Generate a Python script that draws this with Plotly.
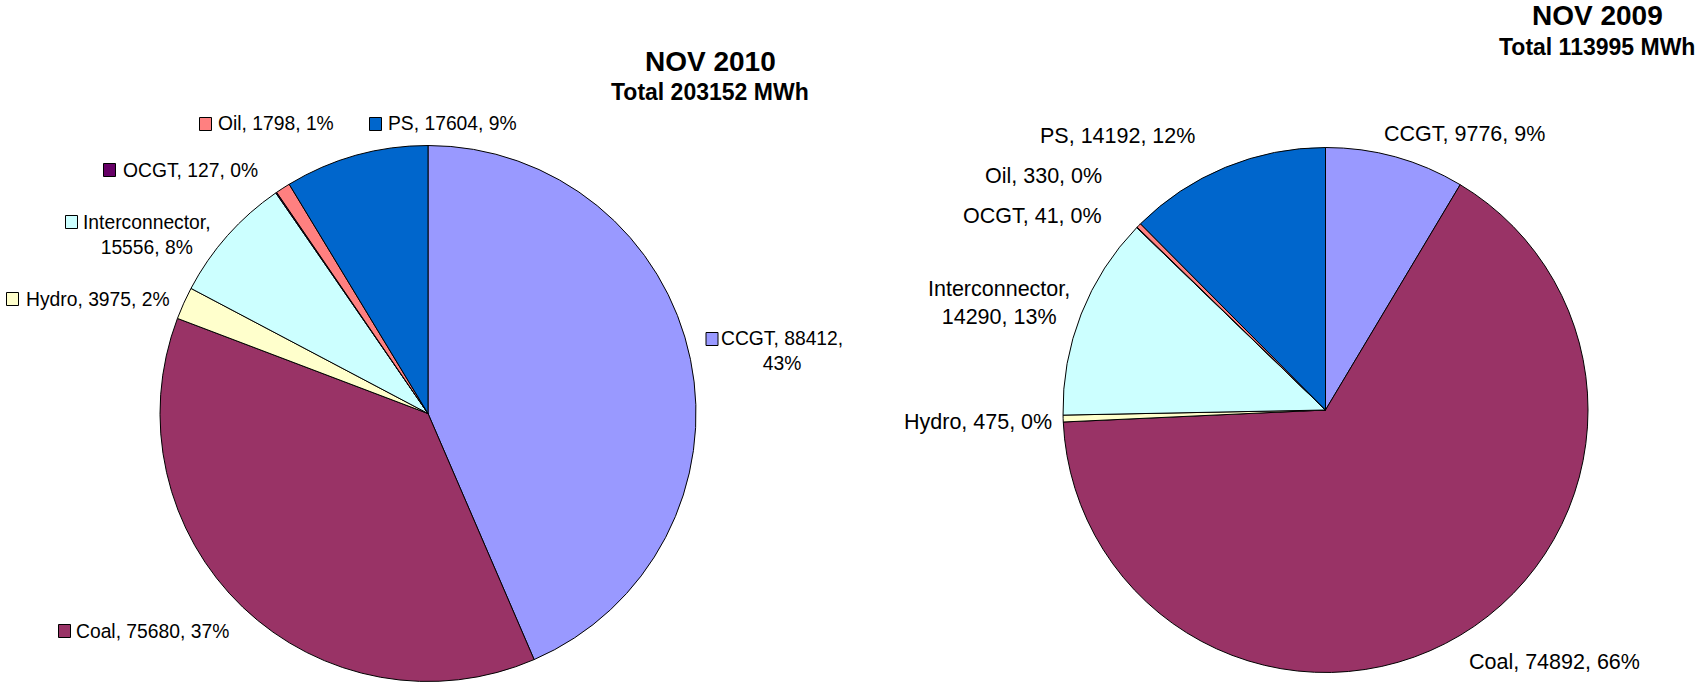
import plotly.graph_objects as go

W, H = 1706, 689

# ---------------- data ----------------
categories = ["CCGT", "Coal", "Hydro", "Interconnector", "OCGT", "Oil", "PS"]
colors = ["#9999FF", "#993366", "#FFFFCC", "#CCFFFF", "#660066", "#FF8080", "#0066CC"]

values_2010 = [88412, 75680, 3975, 15556, 127, 1798, 17604]
pct_2010 = ["43%", "37%", "2%", "8%", "0%", "1%", "9%"]
values_2009 = [9776, 74892, 475, 14290, 41, 330, 14192]
pct_2009 = ["9%", "66%", "0%", "13%", "0%", "0%", "12%"]

title_2010 = "NOV 2010"
total_2010 = "Total 203152 MWh"
title_2009 = "NOV 2009"
total_2009 = "Total 113995 MWh"

# ---------------- layout helpers (pixel -> paper) ----------------
def px(x):
    return x / W

def py(y):
    return 1 - y / H

FONT = "Liberation Sans, Arial, sans-serif"

fig = go.Figure()

# pie domains (pixel boxes)
left_box = (160, 145, 696, 682)     # x0, y0(top), x1, y1(bottom)
right_box = (1063, 147, 1588, 673)

for vals, box in ((values_2010, left_box), (values_2009, right_box)):
    x0, y0, x1, y1 = box
    fig.add_trace(go.Pie(
        labels=categories,
        values=vals,
        sort=False,
        direction="clockwise",
        rotation=0,
        textinfo="none",
        hoverinfo="label+value+percent",
        marker=dict(colors=colors, line=dict(color="#000000", width=1)),
        domain=dict(x=[px(x0), px(x1)], y=[py(y1), py(y0)]),
        showlegend=False,
    ))

annotations = []
shapes = []

def label_text(i, vals, pcts, split=None):
    s1 = ",<br>" if split == "name" else ", "
    s2 = ",<br>" if split == "value" else ", "
    return f"{categories[i]}{s1}{vals[i]}{s2}{pcts[i]}"

# Left pie labels: anchor, x, y_center, split, square_x, square_y
left_pos = {
    "CCGT": ("center", 782, 350.5, "value", 706, 339),
    "Coal": ("left", 74, 631, None, 58.5, 631),
    "Hydro": ("left", 24, 299, None, 6.5, 299),
    "Interconnector": ("center", 147, 234.5, "name", 65.5, 222),
    "OCGT": ("left", 121, 170, None, 103.5, 170),
    "Oil": ("left", 216, 124, None, 199.5, 124),
    "PS": ("left", 386, 124, None, 369.5, 124),
}
for i, c in enumerate(categories):
    anchor, x, y, split, sqx, sqy = left_pos[c]
    annotations.append(dict(
        x=px(x), y=py(y), xref="paper", yref="paper",
        xanchor=anchor, yanchor="middle", showarrow=False, align="center",
        text=label_text(i, values_2010, pct_2010, split),
        font=dict(family=FONT, size=19.3, color="#000000"),
    ))
    shapes.append(dict(
        type="rect", xref="paper", yref="paper",
        x0=px(sqx), x1=px(sqx + 12), y0=py(sqy + 6.5), y1=py(sqy - 6.5),
        fillcolor=colors[i], line=dict(color="#000000", width=1),
    ))

right_pos = {
    "CCGT": ("left", 1382, 134, None),
    "Coal": ("left", 1467, 662, None),
    "Hydro": ("right", 1054, 422, None),
    "Interconnector": ("center", 999, 302.5, "name"),
    "OCGT": ("right", 1104, 216, None),
    "Oil": ("right", 1104, 176, None),
    "PS": ("right", 1197, 136, None),
}
for i, c in enumerate(categories):
    anchor, x, y, split = right_pos[c]
    annotations.append(dict(
        x=px(x), y=py(y), xref="paper", yref="paper",
        xanchor=anchor, yanchor="middle", showarrow=False, align="center",
        text=label_text(i, values_2009, pct_2009, split),
        font=dict(family=FONT, size=21.5, color="#000000"),
    ))

# titles
for text, x, y, size in ((title_2010, 710, 62, 28), (total_2010, 710, 92, 23),
                         (title_2009, 1597, 15, 28), (total_2009, 1597, 47, 23)):
    annotations.append(dict(
        x=px(x), y=py(y), xref="paper", yref="paper",
        xanchor="center", yanchor="middle", showarrow=False,
        text=f"<b>{text}</b>",
        font=dict(family=FONT, size=size, color="#000000"),
    ))

fig.update_layout(
    width=W, height=H,
    margin=dict(l=0, r=0, t=0, b=0),
    paper_bgcolor="#FFFFFF",
    plot_bgcolor="#FFFFFF",
    annotations=annotations,
    shapes=shapes,
)

fig.write_html("out.html", config={"displayModeBar": False},
               post_script="document.body.style.margin='0';")
